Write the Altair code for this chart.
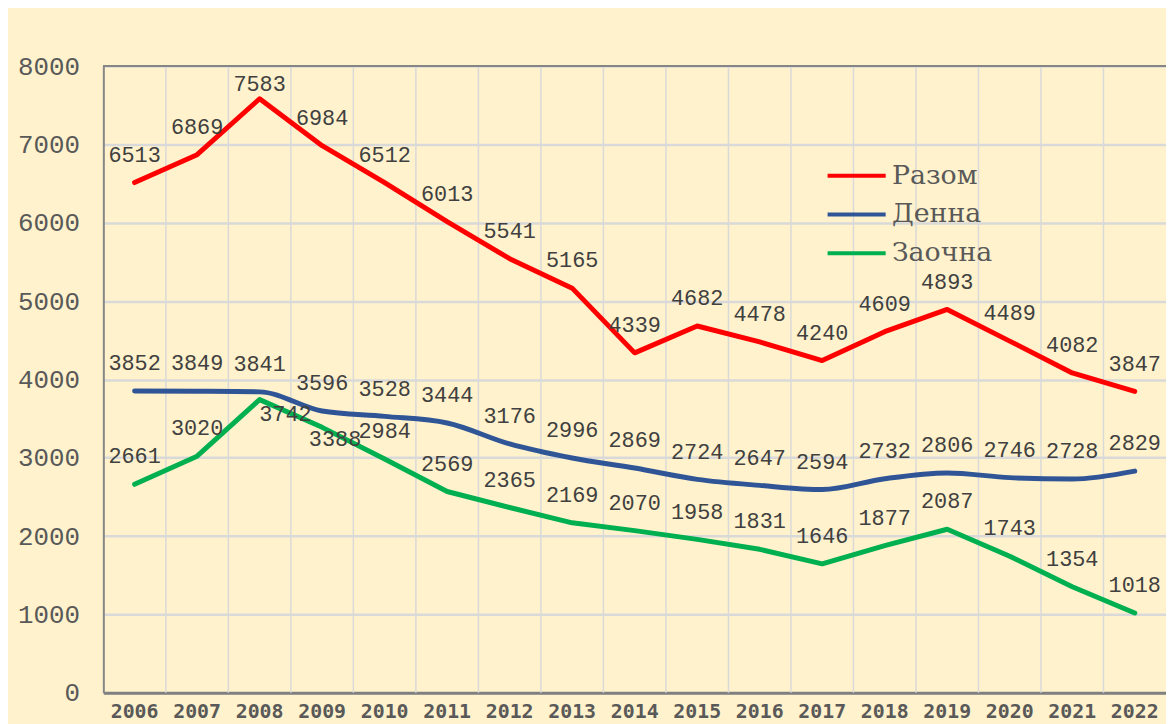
import altair as alt
import pandas as pd

years = [str(y) for y in range(2006, 2023)]
razom = [6513, 6869, 7583, 6984, 6512, 6013, 5541, 5165, 4339, 4682, 4478, 4240, 4609, 4893, 4489, 4082, 3847]
denna = [3852, 3849, 3841, 3596, 3528, 3444, 3176, 2996, 2869, 2724, 2647, 2594, 2732, 2806, 2746, 2728, 2829]
zaochna = [2661, 3020, 3742, 3388, 2984, 2569, 2365, 2169, 2070, 1958, 1831, 1646, 1877, 2087, 1743, 1354, 1018]
series_names = ["Разом", "Денна", "Заочна"]
series_colors = ["#FF0000", "#2F5597", "#00B050"]
y_ticks = [0, 1000, 2000, 3000, 4000, 5000, 6000, 7000, 8000]

rows = []
for name, vals in zip(series_names, [razom, denna, zaochna]):
    for yr, v in zip(years, vals):
        rows.append({"year": yr, "series": name, "value": v})
df = pd.DataFrame(rows)
bounds = pd.DataFrame({"year": years[1:]})

W, H = 1070, 631

x_scale = alt.Scale(type="band", domain=years, paddingInner=0, paddingOuter=0)
y_scale = alt.Scale(domain=[0, 8000], nice=False)

x_axis = alt.Axis(grid=False, ticks=False, domainColor="#808080", domainWidth=3,
                  labelFont="DejaVu Sans Mono", labelFontWeight="bold", labelFontSize=20,
                  labelColor="#595959", labelPadding=9, labelAngle=0, title=None,
                  labelBaseline="top", labelOverlap=False)
y_axis = alt.Axis(values=y_ticks, format="d", grid=True, gridColor="#D9D9D9", gridWidth=2.5,
                  domainColor="#868686", domainWidth=2, ticks=False,
                  labelFont="Liberation Mono", labelFontSize=26, labelColor="#595959",
                  labelPadding=24, title=None)

X = alt.X("year:O", scale=x_scale, axis=x_axis, sort=years)
Y = alt.Y("value:Q", scale=y_scale, axis=y_axis)

color = alt.Color("series:N",
                  scale=alt.Scale(domain=series_names, range=series_colors),
                  sort=series_names,
                  legend=alt.Legend(orient="none", legendX=745, legendY=97, title=None,
                                    symbolType="M-3,0H3", symbolSize=380, symbolStrokeWidth=4,
                                    labelFont="DejaVu Serif", labelFontSize=27,
                                    labelColor="#595959", rowPadding=11, labelOffset=22,
                                    padding=0))

vgrid = alt.Chart(bounds).mark_rule(color="#D9D9D9", strokeWidth=1.5).encode(
    x=alt.X("year:O", scale=x_scale, axis=x_axis, bandPosition=0, sort=years)
)

top_rule = alt.Chart(df).mark_rule(color="#868686", strokeWidth=2).encode(
    y=alt.datum(8000)
)

lines_lin = alt.Chart(df).transform_filter("datum.series != 'Денна'").mark_line(
    strokeWidth=5, strokeCap="round", strokeJoin="round"
).encode(x=X, y=Y, color=color)

lines_smooth = alt.Chart(df).transform_filter("datum.series == 'Денна'").mark_line(
    strokeWidth=5, strokeCap="round", strokeJoin="round", interpolate="monotone"
).encode(x=X, y=Y, color=color)

exc1 = "datum.series == 'Разом' && datum.year == '2008'"
exc2 = "datum.series == 'Заочна' && datum.year == '2008'"
exc3 = "datum.series == 'Заочна' && datum.year == '2009'"

def labels(filter_expr, dx, dy):
    return alt.Chart(df).transform_filter(filter_expr).mark_text(
        font="Liberation Mono", fontSize=22, color="#404040",
        align="center", baseline="middle", dx=dx, dy=dy
    ).encode(x=X, y=Y, text=alt.Text("value:Q", format="d"))

lab_main = labels(f"!(({exc1}) || ({exc2}) || ({exc3}))", 0, -28)
lab_e1 = labels(exc1, 0, -15)
lab_e2 = labels(exc2, 26, 15)
lab_e3 = labels(exc3, 13, 12)

chart = alt.layer(vgrid, top_rule, lines_lin, lines_smooth, lab_main, lab_e1, lab_e2, lab_e3).properties(
    width=W, height=H, background="#FFF2CC",
    padding={"left": 96, "top": 56, "right": 0, "bottom": 29},
    autosize=alt.AutoSizeParams(type="none")
).configure_view(stroke=None)

chart.save("out.html", embed_options={"renderer": "svg", "actions": False})
